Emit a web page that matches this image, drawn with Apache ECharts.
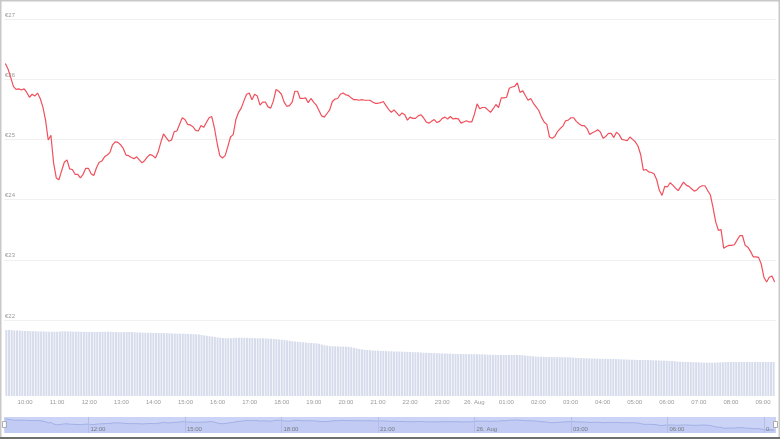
<!DOCTYPE html>
<html><head><meta charset="utf-8">
<script src="https://cdn.jsdelivr.net/npm/echarts@6/dist/echarts.min.js"></script>
<style>html,body{margin:0;padding:0;background:#fff}#c{width:780px;height:439px}</style>
</head><body><div id="c"></div>
<script>
// Time categories: 5-minute candles, 25 Aug 09:25 -> 26 Aug 09:20
const startTime = new Date(2023, 7, 25, 9, 25, 0).getTime();
const stepMinutes = 5;
const monthNames = ['Jan','Feb','Mar','Apr','May','Jun','Jul','Aug','Sep','Oct','Nov','Dec'];
const yTicks = [22, 23, 24, 25, 26, 27];
// navigator tick times (every 3 hours)
const navTicks = [
  new Date(2023, 7, 25, 12).getTime(), new Date(2023, 7, 25, 15).getTime(),
  new Date(2023, 7, 25, 18).getTime(), new Date(2023, 7, 25, 21).getTime(),
  new Date(2023, 7, 26, 0).getTime(),  new Date(2023, 7, 26, 3).getTime(),
  new Date(2023, 7, 26, 6).getTime(),  new Date(2023, 7, 26, 9).getTime()
];
const navRange = [21.6, 26.9];
const navLabelLevel = 22.9;

// Price in EUR
const price = [
26.26,26.17,26.03,25.88,25.83,25.84,25.82,25.84,25.78,25.70,
25.75,25.72,25.77,25.68,25.54,25.32,24.99,25.07,24.61,24.36,
24.33,24.48,24.62,24.66,24.51,24.50,24.42,24.42,24.36,24.42,
24.52,24.52,24.43,24.40,24.53,24.62,24.64,24.71,24.74,24.78,
24.91,24.96,24.95,24.91,24.85,24.74,24.73,24.70,24.68,24.71,
24.66,24.61,24.65,24.71,24.75,24.73,24.69,24.79,24.95,25.09,
25.03,24.97,24.99,25.13,25.14,25.25,25.36,25.33,25.25,25.24,
25.21,25.15,25.14,25.23,25.20,25.28,25.36,25.38,25.19,24.94,
24.73,24.69,24.73,24.88,25.04,25.08,25.33,25.45,25.52,25.64,
25.75,25.77,25.66,25.75,25.72,25.57,25.62,25.62,25.54,25.52,
25.64,25.83,25.80,25.75,25.62,25.55,25.56,25.62,25.80,25.80,
25.68,25.68,25.69,25.61,25.68,25.62,25.57,25.48,25.39,25.37,
25.43,25.49,25.63,25.67,25.68,25.75,25.77,25.74,25.73,25.69,
25.66,25.66,25.65,25.66,25.65,25.65,25.65,25.62,25.60,25.60,
25.61,25.63,25.56,25.50,25.45,25.49,25.44,25.39,25.44,25.41,
25.32,25.37,25.35,25.35,25.39,25.41,25.36,25.29,25.27,25.30,
25.33,25.28,25.30,25.35,25.37,25.34,25.38,25.34,25.35,25.34,
25.27,25.29,25.31,25.29,25.29,25.42,25.59,25.51,25.53,25.53,
25.49,25.45,25.51,25.58,25.53,25.69,25.69,25.70,25.85,25.87,
25.88,25.94,25.78,25.81,25.73,25.65,25.68,25.60,25.54,25.48,
25.37,25.29,25.25,25.04,25.02,25.05,25.13,25.18,25.22,25.31,
25.32,25.36,25.36,25.30,25.26,25.23,25.23,25.18,25.08,25.11,
25.13,25.16,25.12,25.02,25.05,25.10,25.10,25.03,25.12,25.08,
25.00,24.99,24.98,25.04,25.00,24.96,24.89,24.75,24.49,24.50,
24.46,24.45,24.43,24.33,24.15,24.07,24.22,24.21,24.28,24.24,
24.19,24.15,24.22,24.29,24.24,24.22,24.18,24.14,24.16,24.21,
24.23,24.23,24.15,24.08,23.87,23.63,23.49,23.50,23.19,23.22,
23.24,23.24,23.25,23.33,23.40,23.40,23.24,23.21,23.14,23.05,
23.05,23.04,22.93,22.71,22.63,22.71,22.73,22.63
];

// Volume (relative units)
const volume = [
66.0,66.0,65.8,65.6,65.5,65.4,65.2,
65.0,64.9,64.8,64.8,64.7,64.6,64.6,64.5,
64.4,64.3,64.2,64.2,64.3,64.5,64.7,64.7,
64.6,64.5,64.4,64.3,64.3,64.2,64.2,64.1,64.1,64.0,64.0,64.0,64.1,
64.2,64.3,64.3,64.2,64.0,63.9,63.8,63.8,63.9,64.0,64.0,63.9,63.7,
63.5,63.4,63.3,63.3,63.2,63.2,63.1,63.0,63.0,62.9,62.9,62.8,
62.7,62.6,62.5,62.4,62.3,62.3,62.2,62.1,62.0,61.8,61.7,61.5,
61.0,60.6,60.2,59.8,59.4,59.0,58.6,58.3,58.0,57.8,
57.7,57.8,58.0,58.2,58.3,58.3,58.2,58.1,58.0,57.9,57.8,57.7,57.7,
57.7,57.6,57.4,57.2,57.0,56.8,56.5,56.2,56.0,55.6,55.2,54.8,54.5,54.2,54.0,
53.7,53.5,53.2,53.0,52.8,52.6,52.2,51.5,50.8,50.3,50.0,49.8,49.7,49.6,49.5,
49.4,49.3,49.2,48.8,48.2,47.6,47.0,46.6,46.3,46.0,45.8,45.6,45.4,45.2,45.1,
45.0,44.9,44.8,44.7,44.6,44.5,44.4,44.3,44.2,44.1,44.0,43.9,43.8,43.7,43.6,
43.3,43.2,43.1,43.0,42.9,42.8,42.7,42.6,42.5,42.4,42.3,42.2,42.1,42.0,42.0,41.9,41.9,41.8,41.8,41.8,
41.8,41.7,41.6,41.5,41.4,41.3,41.2,41.2,41.1,41.1,41.0,41.0,41.0,41.0,41.0,41.0,41.0,
40.8,40.5,40.2,39.9,39.6,39.4,39.3,39.2,39.1,39.0,39.0,38.9,38.9,38.8,38.8,38.8,38.7,38.7,
38.6,38.4,38.2,38.0,37.9,37.8,37.7,37.6,37.5,37.4,37.3,37.2,37.2,37.1,37.1,
37.0,37.0,36.9,36.8,36.7,36.6,36.5,36.4,36.3,36.2,36.1,36.0,36.0,35.9,35.9,
35.8,35.7,35.6,35.5,35.4,35.3,35.2,35.1,35.0,34.8,34.5,34.3,34.2,34.1,34.0,
33.9,33.8,33.7,33.6,33.5,33.4,33.3,33.3,33.3,33.4,33.5,33.7,33.8,33.9,34.0,
34.0,34.0,34.0,34.0,34.0,34.0,34.0,34.0,34.0,34.0,34.0,34.0,34.0,34.0,34.0,34.0,34.0
];

const stepMs = stepMinutes * 60000;
const times = price.map((_, i) => startTime + i * stepMs);
const tMin = times[0] - stepMs / 2;
const tMax = times[times.length - 1] + stepMs / 2;
const priceData = times.map((t, i) => [t, price[i]]);
const volData = times.map((t, i) => [t, volume[i]]);

function hourLabel(v) {
  const d = new Date(v);
  if (d.getMinutes() !== 0) return '';
  if (d.getHours() === 0) return d.getDate() + '. ' + monthNames[d.getMonth()];
  return String(d.getHours()).padStart(2, '0') + ':00';
}
function navLabel(v) {
  const s = hourLabel(v);
  if (v > tMax - 3600000) return s.slice(0, 1) + '...';
  return s;
}

const FONT = 'Liberation Sans, Arial, sans-serif';
const chart = echarts.init(document.getElementById('c'), null, {renderer: 'canvas'});
chart.setOption({
  animation: false,
  backgroundColor: '#ffffff',
  textStyle: {fontFamily: FONT},
  grid: [
    {left: 4, right: 4, top: 19, height: 301},
    {left: 4, right: 4, top: 300, height: 96},
    {left: 4, right: 4, top: 417, height: 16, show: true, backgroundColor: '#cbd4f6', borderWidth: 0}
  ],
  xAxis: [
    {type: 'time', gridIndex: 0, min: tMin, max: tMax, show: false},
    {type: 'time', gridIndex: 1, min: tMin, max: tMax, minInterval: 3600000, maxInterval: 3600000,
     axisLine: {show: false}, axisTick: {show: false}, splitLine: {show: false},
     axisLabel: {fontSize: 6, color: '#9a9a9a', margin: 3, showMinLabel: false, showMaxLabel: false,
                 hideOverlap: false, formatter: hourLabel, fontFamily: FONT}},
    {type: 'time', gridIndex: 2, min: tMin, max: tMax, show: false}
  ],
  yAxis: [
    {type: 'value', gridIndex: 0, min: yTicks[0], max: yTicks[yTicks.length - 1], interval: 1,
     axisLine: {show: false}, axisTick: {show: false},
     splitLine: {lineStyle: {color: '#f0f0f0', width: 1}},
     axisLabel: {inside: true, margin: 1, fontSize: 6, color: '#9a9a9a', verticalAlign: 'bottom',
                 padding: [0, 0, 1, 0], formatter: v => '€' + v, fontFamily: FONT}},
    {type: 'value', gridIndex: 1, min: 0, max: 96, show: false},
    {type: 'value', gridIndex: 2, min: navRange[0], max: navRange[1], show: false}
  ],
  series: [
    {type: 'bar', xAxisIndex: 1, yAxisIndex: 1, data: volData, barWidth: 2,
     itemStyle: {color: '#d6dcec'}, silent: true},
    {type: 'line', xAxisIndex: 0, yAxisIndex: 0, data: priceData, showSymbol: false, z: 5,
     lineStyle: {color: '#f0505c', width: 1.2}, silent: true},
    {type: 'line', xAxisIndex: 2, yAxisIndex: 2, data: priceData, showSymbol: false,
     lineStyle: {color: '#9aa8e2', width: 0.8}, areaStyle: {color: 'rgba(150,165,230,0.25)'}, silent: true,
     markLine: {silent: true, symbol: 'none', label: {show: false},
                lineStyle: {color: '#b3bde6', width: 1, type: 'solid'},
                data: navTicks.map(t => ({xAxis: t}))}},
    {type: 'scatter', xAxisIndex: 2, yAxisIndex: 2, symbolSize: 0, silent: true, z: 6,
     data: navTicks.map(t => [t, navLabelLevel]),
     label: {show: true, position: 'right', distance: 2, fontSize: 6, color: '#666', fontFamily: FONT,
             formatter: p => navLabel(p.value[0])}}
  ],
  graphic: [
    {type: 'rect', shape: {x: 0.75, y: 0.75, width: 778.5, height: 437}, style: {fill: null, stroke: '#c8c8c8', lineWidth: 1.5}, silent: true},
    {type: 'line', shape: {x1: 0, y1: 438, x2: 780, y2: 438}, style: {stroke: '#6f6f6f', lineWidth: 2}, silent: true},
    {type: 'rect', shape: {x: 2.5, y: 421.5, width: 4, height: 6}, style: {fill: '#fff', stroke: '#9a9a9a', lineWidth: 0.8}, silent: true},
    {type: 'rect', shape: {x: 773.5, y: 421.5, width: 4, height: 6}, style: {fill: '#fff', stroke: '#9a9a9a', lineWidth: 0.8}, silent: true}
  ]
});
</script>
</body></html>
